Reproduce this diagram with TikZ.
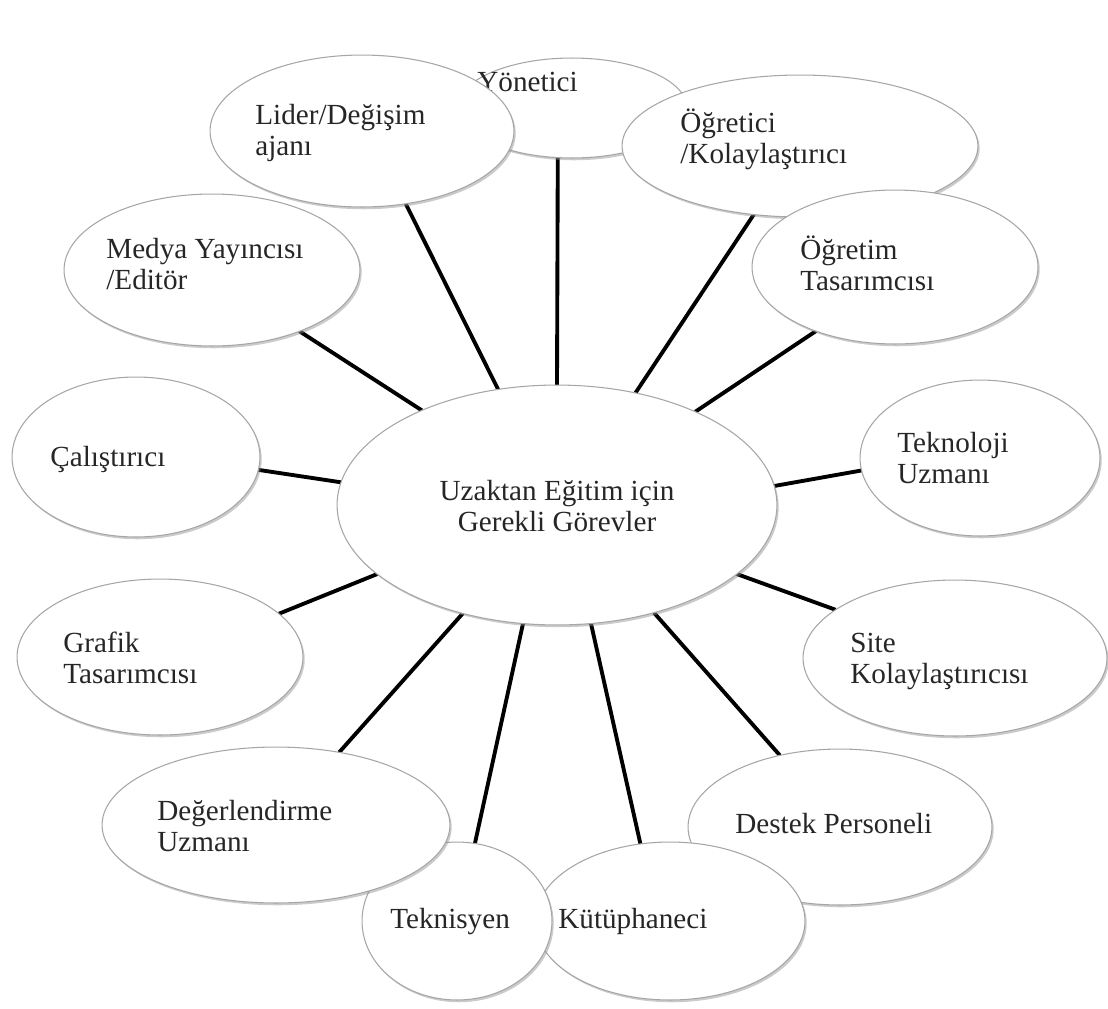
\documentclass[tikz,border=0pt]{standalone}
\usepackage{fontspec}
\setmainfont{Liberation Serif}
\usetikzlibrary{shapes.geometric,shadows,backgrounds}

\begin{document}
\begin{tikzpicture}[x=0.02cm, y=-0.02cm,
  role/.style={ellipse, draw=gray!70, line width=0.6pt, fill=white,
    inner sep=0pt, outer sep=0pt,
    drop shadow={shadow xshift=1pt, shadow yshift=-1.3pt, opacity=0.45, fill=black!45}},
  radii/.style 2 args={minimum width=#1*0.04cm, minimum height=#2*0.04cm},
  lbl/.style={anchor=base west, align=left, inner sep=0pt,
    font=\fontsize{16.6}{17.1}\selectfont, text=black!85},
  spoke/.style={line width=2.2pt, black}]

\useasboundingbox (0,0) rectangle (1108,1008);

%% ── Upper ring ───────────────────────────────────────────────────────────────
\node[role, radii={115}{50}] (yon) at (572,108) {};
\node[lbl] (t-yon) at (477,91) {Yönetici};

\node[role, radii={152}{76}] (lid) at (362,131) {};
\node[lbl] (t-lid) at (255,155) {Lider/Değişim\\ajanı};

\node[role, radii={178}{71}] (ogr) at (800,146) {};
\node[lbl] (t-ogr) at (680,163) {Öğretici\\/Kolaylaştırıcı};

\node[role, radii={143}{77}] (ogt) at (895,267) {};
\node[lbl] (t-ogt) at (800,290) {Öğretim\\Tasarımcısı};

\node[role, radii={148}{76}] (med) at (212,270) {};
\node[lbl] (t-med) at (106,289) {Medya Yayıncısı\\/Editör};

%% ── Middle ring ──────────────────────────────────────────────────────────────
\node[role, radii={124}{80}] (cal) at (136,457) {};
\node[lbl] (t-cal) at (50,466) {Çalıştırıcı};

\node[role, radii={120}{78}] (tek) at (980,458) {};
\node[lbl] (t-tek) at (897,483) {Teknoloji\\Uzmanı};

\node[role, radii={143}{78}] (gra) at (160,657) {};
\node[lbl] (t-gra) at (63,683) {Grafik\\Tasarımcısı};

\node[role, radii={152}{78}] (sit) at (955,658) {};
\node[lbl] (t-sit) at (850,683) {Site\\Kolaylaştırıcısı};

%% ── Lower ring ───────────────────────────────────────────────────────────────
\node[role, radii={152}{78}] (des) at (840,827) {};
\node[lbl] (t-des) at (735,833) {Destek Personeli};

\node[role, radii={135}{79}] (kut) at (670,921) {};
\node[lbl] (t-kut) at (558,928) {Kütüphaneci};

\node[role, radii={95}{79}] (tks) at (457,921) {};
\node[lbl] (t-tks) at (390,928) {Teknisyen};

\node[role, radii={174}{78}] (deg) at (276,825) {};
\node[lbl] (t-deg) at (157,851) {Değerlendirme\\Uzmanı};

%% ── Hub ──────────────────────────────────────────────────────────────────────
\node[role, radii={220}{120}] (ctr) at (557,505) {};
\node[lbl, anchor=base, align=center] (t-ctr) at (557,531)
  {Uzaktan Eğitim için\\Gerekli Görevler};

%% ── Spokes (behind the ellipses) ─────────────────────────────────────────────
\begin{pgfonlayer}{background}
\foreach \a/\n/\b in {90/yon/-106.7, 117.3/lid/-59.9, 55.5/ogr/-124.1,
    34.2/ogt/-141.9, 145.7/med/-35.6, 174.1/cal/-6.5, 5.5/tek/186.7,
    201.6/gra/20.9, -21.5/sit/158.7, 229.4/deg/49.5, -106.3/tks/77,
    -74.6/kut/111, -48.8/des/130}
  \draw[spoke] (ctr.\a) -- (\n.\b);
\end{pgfonlayer}

\end{tikzpicture}
\end{document}
